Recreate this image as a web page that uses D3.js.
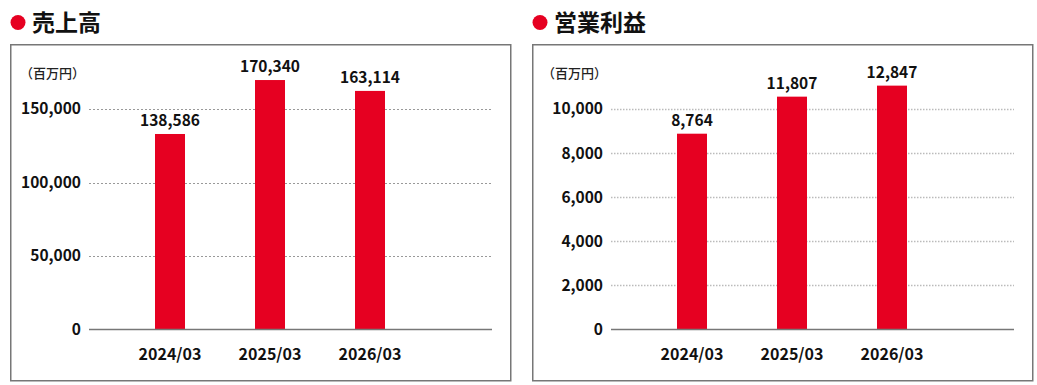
<!DOCTYPE html>
<html>
<head>
<meta charset="utf-8">
<script src="https://cdn.jsdelivr.net/npm/d3@7"></script>
<style>
  body { margin: 0; background: #fff; }
  svg { display: block; }
</style>
</head>
<body>
<svg id="chart" width="1037" height="385"></svg>
<script>
// data
const periods = ['2024/03', '2025/03', '2026/03'];

const salesBars = [133000, 169700, 162300];
const salesLabels = [138586, 170340, 163114];
const salesTicks = [0, 50000, 100000, 150000];

// operating profit (百万円)
const profitBars = [8880, 10560, 11060];
const profitLabels = [8764, 11807, 12847];
const profitTicks = [0, 2000, 4000, 6000, 8000, 10000];

const RED = '#e60021';
const FONT = '"Noto Sans CJK JP", "Noto Sans", sans-serif';
const fmt = d3.format(',');

const svg = d3.select('#chart');

function drawPanel(opts) {
  const { x0, title, bars, labels, ticks, yMax, gridStyle } = opts;
  const g = svg.append('g').attr('transform', `translate(${x0},0)`);

  // title with red dot
  g.append('circle').attr('cx', 8).attr('cy', 22.5).attr('r', 7.5).attr('fill', RED);
  g.append('text')
    .attr('x', 22).attr('y', 31)
    .attr('font-family', FONT).attr('font-weight', 700)
    .attr('font-size', 23).attr('fill', '#111')
    .text(title);

  // frame
  g.append('rect')
    .attr('x', 0.75).attr('y', 44.75).attr('width', 500).attr('height', 336)
    .attr('fill', 'none').attr('stroke', '#777').attr('stroke-width', 1.5);

  // unit
  g.append('text')
    .attr('x', 10).attr('y', 78)
    .attr('font-family', FONT).attr('font-size', 13).attr('font-weight', 500)
    .attr('fill', '#222')
    .text('（百万円）');

  const y = d3.scaleLinear().domain([0, yMax]).range([329.5, 109]);
  const x = d3.scaleBand().domain(periods).range([110, 410]).paddingInner(0.7).paddingOuter(0.35);

  // grid lines
  ticks.filter(t => t > 0).forEach(t => {
    g.append('line')
      .attr('x1', 79).attr('x2', 482)
      .attr('y1', Math.round(y(t)) + 0.5).attr('y2', Math.round(y(t)) + 0.5)
      .attr('stroke', gridStyle.color)
      .attr('stroke-width', gridStyle.width)
      .attr('stroke-dasharray', gridStyle.dash);
  });

  // y tick labels
  const yAxis = g.append('g').attr('transform', 'translate(71,0)')
    .call(d3.axisLeft(y).tickValues(ticks).tickFormat(fmt).tickSize(0).tickPadding(0));
  yAxis.select('.domain').remove();
  yAxis.selectAll('text')
    .attr('font-family', FONT).attr('font-size', 15.5).attr('font-weight', 700)
    .attr('fill', '#111');

  // bars
  g.selectAll('rect.bar').data(bars).join('rect')
    .attr('class', 'bar')
    .attr('x', (d, i) => x(periods[i]))
    .attr('width', x.bandwidth())
    .attr('y', d => y(d))
    .attr('height', d => y(0) - y(d))
    .attr('fill', RED);

  // value labels
  g.selectAll('text.val').data(labels).join('text')
    .attr('class', 'val')
    .attr('x', (d, i) => x(periods[i]) + x.bandwidth() / 2)
    .attr('y', (d, i) => y(bars[i]) - 8)
    .attr('text-anchor', 'middle')
    .attr('font-family', FONT).attr('font-size', 15.5).attr('font-weight', 700)
    .attr('fill', '#111')
    .text(d => fmt(d));

  // baseline
  g.append('line')
    .attr('x1', 79).attr('x2', 482)
    .attr('y1', y(0)).attr('y2', y(0))
    .attr('stroke', '#777').attr('stroke-width', 1.5);

  // x labels
  const xAxis = g.append('g').attr('transform', `translate(0,${y(0)})`)
    .call(d3.axisBottom(x).tickSize(0).tickPadding(0));
  xAxis.select('.domain').remove();
  xAxis.selectAll('text')
    .attr('dy', 0).attr('y', 30)
    .attr('font-family', FONT).attr('font-size', 16).attr('font-weight', 700)
    .attr('fill', '#111');
}

drawPanel({
  x0: 10, title: '売上高', bars: salesBars, labels: salesLabels,
  ticks: salesTicks, yMax: 150000,
  gridStyle: { color: '#999', width: 1, dash: '2,2' }
});

drawPanel({
  x0: 532, title: '営業利益', bars: profitBars, labels: profitLabels,
  ticks: profitTicks, yMax: 10000,
  gridStyle: { color: '#bbb', width: 1.5, dash: '1.5,1.5' }
});
</script>
</body>
</html>
